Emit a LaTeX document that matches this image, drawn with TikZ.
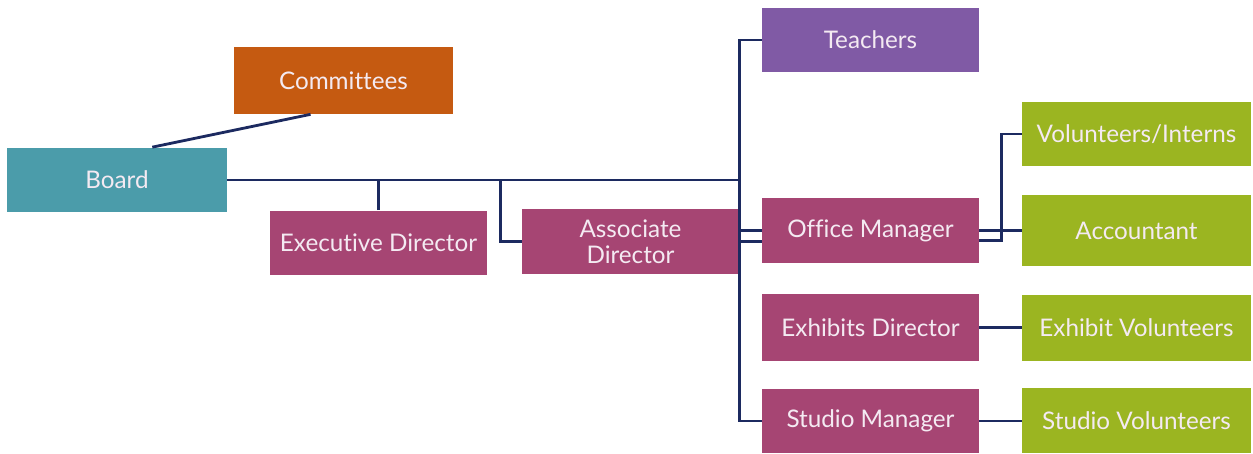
\documentclass[tikz,border=0pt]{standalone}
\usepackage{fontspec}
\setmainfont[Ligatures=NoCommon]{Lato}
\usetikzlibrary{positioning, calc}
\definecolor{boardteal}{RGB}{75,156,170}
\definecolor{commorange}{RGB}{197,90,17}
\definecolor{staffmagenta}{RGB}{166,69,115}
\definecolor{teachpurple}{RGB}{128,90,165}
\definecolor{volgreen}{RGB}{155,181,33}
\definecolor{linknavy}{RGB}{28,42,96}
\definecolor{boxtext}{RGB}{244,234,242}

\begin{document}
\begin{tikzpicture}[x=0.02cm, y=-0.02cm,
    box/.style={minimum width=4.34cm, minimum height=1.3cm, inner sep=0pt, text=boxtext,
                font=\fontsize{13.8}{15}\selectfont, align=center},
    staff/.style={box, fill=staffmagenta},
    volunteer/.style={box, fill=volgreen, minimum width=4.58cm},
    link/.style={draw=linknavy, line width=1.6pt}
]
    \useasboundingbox (0,0) rectangle (1253,453);

    % Board and committees
    \node[box, fill=boardteal, minimum width=4.4cm] (board) at (117,180) {Board};
    \node[box, fill=commorange, minimum width=4.38cm, minimum height=1.34cm] (committees) at (343.5,80.5) {Committees};

    % Directors
    \node[staff] (execdir) at (378.5,243) {Executive Director};
    \node[staff] (assocdir) at (630.5,241.5) {Associate\\Director};

    % Staff column
    \node[box, fill=teachpurple] (teachers) at (870.5,40) {Teachers};
    \node[staff] (officemgr) at (870.5,230.5) {Office Manager};
    \node[staff, minimum height=1.34cm] (exhibitsdir) at (870.5,327.5) {Exhibits Director};
    \node[staff, minimum height=1.28cm] (studiomgr) at (870.5,421) {Studio Manager};

    % Volunteer column
    \node[volunteer] (volunteers) at (1136.5,134) {Volunteers/Interns};
    \node[volunteer, minimum height=1.42cm] (accountant) at (1136.5,230.5) {Accountant};
    \node[volunteer, minimum height=1.32cm] (exhibitvol) at (1136.5,328) {Exhibit Volunteers};
    \node[volunteer, minimum height=1.3cm] (studiovol) at (1136.5,420.5) {Studio Volunteers};

    % Board links
    \draw[link] ($(board.north west)!0.66!(board.north east)$) -- ($(committees.south west)!0.35!(committees.south east)$);
    \draw[link] (board.east) -- (board.east -| assocdir.east);
    \draw[link] (execdir.north) -- (execdir.north |- board.east);
    \draw[link] (assocdir.west) -- ([xshift=-0.42cm]assocdir.west) |- (board.east);

    % Trunk to the staff column
    \draw[link] (teachers.west) -- (teachers.west -| assocdir.east) -- (studiomgr.west -| assocdir.east) -- (studiomgr.west);
    \draw[link] (officemgr.west) -- (officemgr.west -| assocdir.east);
    \draw[link] (assocdir.east) -- (assocdir.east -| officemgr.west);

    % Staff to volunteers
    \draw[link] (officemgr.east) -- (accountant.west);
    \draw[link] ([yshift=-0.2cm]officemgr.east) -- ++(0.44cm,0) |- (volunteers.west);
    \draw[link] (exhibitsdir.east) -- (exhibitsdir.east -| exhibitvol.west);
    \draw[link] (studiomgr.east) -- (studiomgr.east -| studiovol.west);

\end{tikzpicture}
\end{document}
